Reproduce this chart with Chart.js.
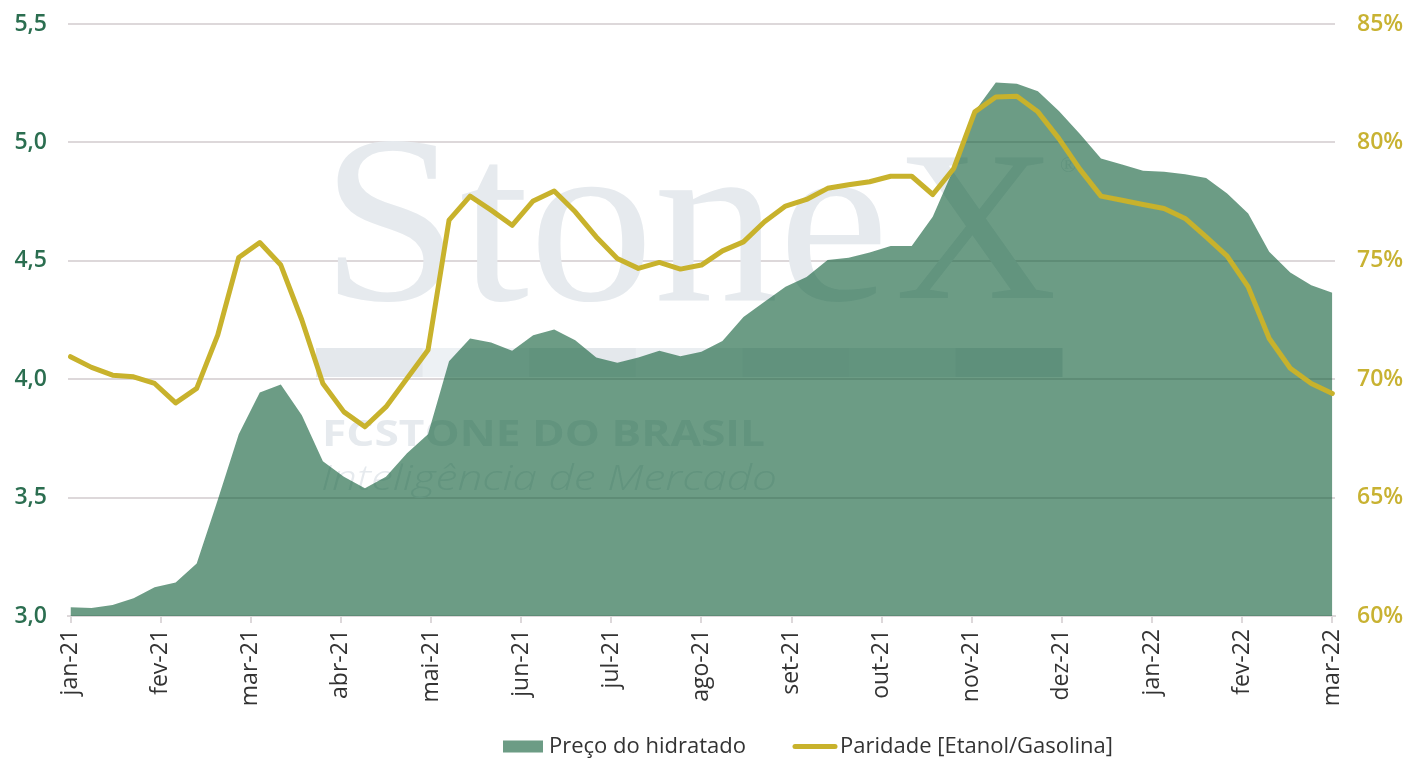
<!DOCTYPE html>
<html>
<head>
<meta charset="utf-8">
<script src="https://cdn.jsdelivr.net/npm/chart.js@4.4.1/dist/chart.umd.min.js"></script>
<style>
  html, body { margin: 0; padding: 0; background: #ffffff; }
  #wrap { width: 1418px; height: 767px; position: relative; }
  canvas { display: block; }
</style>
</head>
<body>
<div id="wrap"><canvas id="c" width="1418" height="767" style="width:1418px;height:767px"></canvas></div>
<script>
// ---- Data (weekly observations, jan-21 .. mar-22) ----
const monthLabels = ['jan-21','fev-21','mar-21','abr-21','mai-21','jun-21','jul-21','ago-21','set-21','out-21','nov-21','dez-21','jan-22','fev-22','mar-22'];

const precoHidratado = [
  3.037, 3.034, 3.046, 3.075, 3.121, 3.141, 3.222, 3.490, 3.768, 3.944,
  3.978, 3.848, 3.654, 3.588, 3.539, 3.588, 3.687, 3.768, 4.076, 4.172,
  4.155, 4.120, 4.186, 4.210, 4.165, 4.092, 4.069, 4.092, 4.120, 4.097,
  4.116, 4.161, 4.263, 4.327, 4.390, 4.432, 4.503, 4.513, 4.535, 4.562,
  4.562, 4.686, 4.890, 5.132, 5.253, 5.248, 5.216, 5.133, 5.035, 4.932,
  4.907, 4.880, 4.876, 4.866, 4.850, 4.784, 4.700, 4.538, 4.451, 4.397,
  4.365
];

const paridade = [
  70.95, 70.50, 70.17, 70.10, 69.82, 69.00, 69.61, 71.86, 75.14, 75.77,
  74.82, 72.50, 69.82, 68.62, 67.99, 68.83, 70.03, 71.23, 76.72, 77.73,
  77.14, 76.50, 77.53, 77.95, 77.07, 76.01, 75.10, 74.68, 74.93, 74.65,
  74.82, 75.42, 75.80, 76.65, 77.31, 77.59, 78.06, 78.21, 78.34, 78.57,
  78.57, 77.80, 78.90, 81.29, 81.92, 81.95, 81.29, 80.16, 78.86, 77.73,
  77.56, 77.38, 77.21, 76.79, 76.01, 75.20, 73.90, 71.72, 70.46, 69.82,
  69.40
];

const leftTicks = [3.0, 3.5, 4.0, 4.5, 5.0, 5.5];
const rightTicks = [60, 65, 70, 75, 80, 85];

const seriesNames = ['Preço do hidratado', 'Paridade [Etanol/Gasolina]'];

// ---- Styles ----
const AREA_COLOR = 'rgba(10,90,52,0.6)';
const LINE_COLOR = '#c8b22c';
const LEFT_COLOR = '#2b6e50';
const RIGHT_COLOR = '#c8b232';
const GRID_COLOR = '#ddd8da';
const TEXT_COLOR = '#333333';
const WM_COLOR = '#e6eaee';
const FONT = '"Open Sans", "Noto Sans", sans-serif';
const CLEAR = 'rgba(0,0,0,0)';

const nWeeks = precoHidratado.length - 1;

function fitText(ctx, text, x, y, width) {
  const w = ctx.measureText(text).width;
  ctx.save();
  ctx.translate(x, y);
  ctx.scale(width / w, 1);
  ctx.fillText(text, 0, 0);
  ctx.restore();
}

const watermark = {
  id: 'watermark',
  beforeDatasetsDraw(chart) {
    const ctx = chart.ctx;
    ctx.save();
    ctx.fillStyle = WM_COLOR;
    ctx.textAlign = 'left';
    ctx.textBaseline = 'alphabetic';
    ctx.font = '240px "Liberation Serif", serif';
    fitText(ctx, 'Stone', 321, 300, 568);
    ctx.font = '214px "Liberation Serif", serif';
    fitText(ctx, 'X', 895, 298, 162);
    ctx.font = '22px "Liberation Serif", serif';
    ctx.fillText('®', 1060, 172);
    const shades = ['#e4e8ec', '#edf1f4', '#e4e8ec', '#eaeef1', '#e3e7eb', '#e7ebee', '#dde2e6'];
    const bx = 316, bw = 746 / shades.length;
    shades.forEach((s, k) => {
      ctx.fillStyle = s;
      ctx.fillRect(bx + k * bw, 348, bw + 0.5, 29);
    });
    ctx.fillStyle = WM_COLOR;
    ctx.font = 'bold 36px ' + FONT;
    fitText(ctx, 'FCSTONE DO BRASIL', 322, 446, 443);
    ctx.font = 'italic 300 34px ' + FONT;
    fitText(ctx, 'Inteligência de Mercado', 321, 490, 456);
    ctx.restore();
  }
};

const customLegend = {
  id: 'customLegend',
  afterDraw(chart) {
    const ctx = chart.ctx;
    ctx.save();
    const cy = 746.5;
    ctx.fillStyle = AREA_COLOR;
    ctx.fillRect(503, 740.5, 40, 12);
    ctx.font = '22px ' + FONT;
    ctx.fillStyle = TEXT_COLOR;
    ctx.textBaseline = 'middle';
    ctx.textAlign = 'left';
    ctx.fillText(seriesNames[0], 549, cy);
    ctx.strokeStyle = LINE_COLOR;
    ctx.lineWidth = 5;
    ctx.lineCap = 'round';
    ctx.beginPath();
    ctx.moveTo(795, cy);
    ctx.lineTo(835, cy);
    ctx.stroke();
    ctx.fillText(seriesNames[1], 840, cy);
    ctx.restore();
  }
};

const ctx = document.getElementById('c').getContext('2d');
new Chart(ctx, {
  type: 'line',
  data: {
    datasets: [
      {
        label: seriesNames[1],
        data: paridade.map((v, i) => ({ x: i, y: v })),
        yAxisID: 'y1',
        borderColor: LINE_COLOR,
        borderWidth: 5,
        pointRadius: 0,
        tension: 0,
        fill: false,
        borderJoinStyle: 'round',
        borderCapStyle: 'round',
        order: 1
      },
      {
        label: seriesNames[0],
        data: precoHidratado.map((v, i) => ({ x: i, y: v })),
        yAxisID: 'y',
        backgroundColor: AREA_COLOR,
        borderWidth: 0,
        borderColor: CLEAR,
        pointRadius: 0,
        tension: 0,
        fill: 'start',
        order: 2
      }
    ]
  },
  options: {
    responsive: false,
    animation: false,
    devicePixelRatio: 1,
    layout: { padding: { top: 24, left: 0, right: 0, bottom: 0 } },
    plugins: {
      legend: { display: false },
      tooltip: { enabled: false }
    },
    scales: {
      x: {
        type: 'linear',
        min: -0.119,
        max: nWeeks + 0.128,
        afterBuildTicks(scale) {
          scale.ticks = monthLabels.map((m, k) => ({ value: k * nWeeks / (monthLabels.length - 1) }));
        },
        afterFit(scale) { scale.height = 151; },
        ticks: {
          autoSkip: false,
          minRotation: 90,
          maxRotation: 90,
          padding: 6,
          color: TEXT_COLOR,
          font: { family: FONT, size: 23 },
          callback(value, index) { return monthLabels[index]; }
        },
        grid: {
          display: true,
          drawOnChartArea: false,
          drawTicks: true,
          tickLength: 7,
          color: GRID_COLOR,
          lineWidth: 2
        },
        border: { display: true, color: GRID_COLOR, width: 2 }
      },
      y: {
        position: 'left',
        min: 3.0,
        max: 5.5,
        afterBuildTicks(scale) { scale.ticks = leftTicks.map(v => ({ value: v })); },
        afterFit(scale) { scale.width = 68; },
        ticks: {
          padding: 0,
          color: LEFT_COLOR,
          font: { family: FONT, size: 23, weight: '600' },
          callback(v) { return v.toFixed(1).replace('.', ','); }
        },
        grid: { color: GRID_COLOR, lineWidth: 2, drawTicks: true, tickLength: 21, tickColor: CLEAR },
        border: { display: false }
      },
      y1: {
        position: 'right',
        min: 60,
        max: 85,
        afterBuildTicks(scale) { scale.ticks = rightTicks.map(v => ({ value: v })); },
        afterFit(scale) { scale.width = 83; },
        ticks: {
          padding: 0,
          color: RIGHT_COLOR,
          font: { family: FONT, size: 23, weight: '600' },
          callback(v) { return v + '%'; }
        },
        grid: { display: true, drawOnChartArea: false, drawTicks: true, tickLength: 22, tickColor: CLEAR, color: CLEAR },
        border: { display: false }
      }
    }
  },
  plugins: [watermark, customLegend]
});
</script>
</body>
</html>
